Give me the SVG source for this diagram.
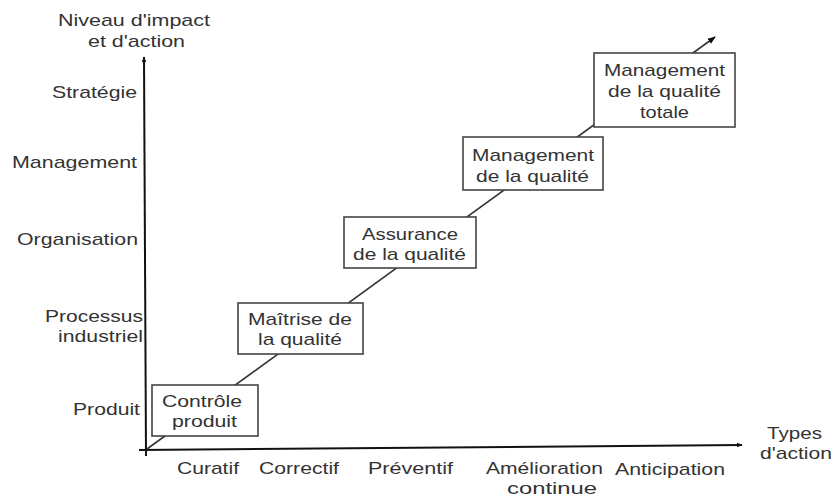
<svg xmlns="http://www.w3.org/2000/svg" width="834" height="497" viewBox="0 0 834 497">
<defs>
<style>
text{font-family:"Liberation Sans",Arial,sans-serif;font-size:17px;fill:#333}
.box{fill:#fff;stroke:#444;stroke-width:1.6}
.axis{stroke:#111;stroke-width:2;fill:none}
.diag{stroke:#333;stroke-width:1.6;fill:none}
</style>
<marker id="ah" viewBox="0 0 10 10" refX="9" refY="5" markerWidth="6" markerHeight="6" markerUnits="userSpaceOnUse" orient="auto"><path d="M0,1 L10,5 L0,9 Z" fill="#111"/></marker>
<marker id="ah2" viewBox="0 0 10 10" refX="9" refY="5" markerWidth="8" markerHeight="8" markerUnits="userSpaceOnUse" orient="auto"><path d="M0,1 L10,5 L0,9 Z" fill="#111"/></marker>
</defs>
<rect width="834" height="497" fill="#fff"/>
<g id="connectors">
<line class="axis" x1="146" y1="456" x2="144" y2="57" marker-end="url(#ah)"/>
<line class="axis" x1="139" y1="450" x2="742" y2="445" marker-end="url(#ah)"/>
<line class="diag" x1="147" y1="449" x2="715" y2="37" marker-end="url(#ah2)"/>
</g>
<g id="axis-labels">
<text x="58" y="26" textLength="152" lengthAdjust="spacingAndGlyphs">Niveau d'impact</text>
<text x="88" y="47" textLength="97" lengthAdjust="spacingAndGlyphs">et d'action</text>
<text x="52" y="98" textLength="85" lengthAdjust="spacingAndGlyphs">Stratégie</text>
<text x="12" y="168" textLength="125" lengthAdjust="spacingAndGlyphs">Management</text>
<text x="17" y="245" textLength="121" lengthAdjust="spacingAndGlyphs">Organisation</text>
<text x="45" y="322" textLength="98" lengthAdjust="spacingAndGlyphs">Processus</text>
<text x="58" y="342" textLength="85" lengthAdjust="spacingAndGlyphs">industriel</text>
<text x="73" y="415" textLength="67" lengthAdjust="spacingAndGlyphs">Produit</text>
<text x="177" y="474" textLength="62" lengthAdjust="spacingAndGlyphs">Curatif</text>
<text x="259" y="474" textLength="80" lengthAdjust="spacingAndGlyphs">Correctif</text>
<text x="368" y="474" textLength="85" lengthAdjust="spacingAndGlyphs">Préventif</text>
<text x="486" y="474" textLength="117" lengthAdjust="spacingAndGlyphs">Amélioration</text>
<text x="507" y="494" textLength="90" lengthAdjust="spacingAndGlyphs">continue</text>
<text x="615" y="475" textLength="110" lengthAdjust="spacingAndGlyphs">Anticipation</text>
<text x="767" y="439" textLength="55" lengthAdjust="spacingAndGlyphs">Types</text>
<text x="760" y="459" textLength="72" lengthAdjust="spacingAndGlyphs">d'action</text>
</g>
<g id="n1">
<rect class="box" x="152" y="385" width="106" height="51"/>
<text x="162" y="407" textLength="80" lengthAdjust="spacingAndGlyphs">Contrôle</text>
<text x="172" y="427" textLength="65" lengthAdjust="spacingAndGlyphs">produit</text>
</g>
<g id="n2">
<rect class="box" x="238" y="303" width="125" height="51"/>
<text x="248" y="325" textLength="104" lengthAdjust="spacingAndGlyphs">Maîtrise de</text>
<text x="258" y="345" textLength="84" lengthAdjust="spacingAndGlyphs">la qualité</text>
</g>
<g id="n3">
<rect class="box" x="344" y="217" width="132" height="51"/>
<text x="362" y="240" textLength="96" lengthAdjust="spacingAndGlyphs">Assurance</text>
<text x="353" y="260" textLength="113" lengthAdjust="spacingAndGlyphs">de la qualité</text>
</g>
<g id="n4">
<rect class="box" x="463" y="137" width="140" height="53"/>
<text x="472" y="161" textLength="122" lengthAdjust="spacingAndGlyphs">Management</text>
<text x="476" y="182" textLength="113" lengthAdjust="spacingAndGlyphs">de la qualité</text>
</g>
<g id="n5">
<rect class="box" x="594" y="53" width="141" height="74"/>
<text x="604" y="76" textLength="121" lengthAdjust="spacingAndGlyphs">Management</text>
<text x="608" y="97" textLength="113" lengthAdjust="spacingAndGlyphs">de la qualité</text>
<text x="640" y="118" textLength="49" lengthAdjust="spacingAndGlyphs">totale</text>
</g>
</svg>
